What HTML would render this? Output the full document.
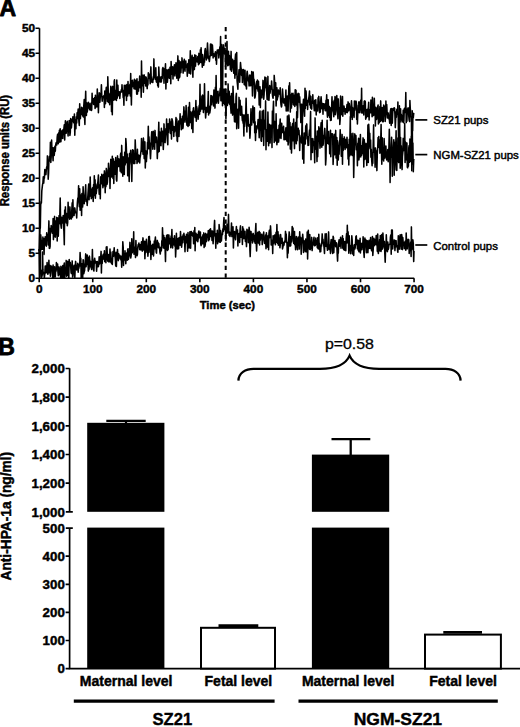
<!DOCTYPE html>
<html><head><meta charset="utf-8"><style>
html,body{margin:0;padding:0;background:#fff;}
body{width:520px;height:727px;overflow:hidden;font-family:"Liberation Sans",sans-serif;}
svg{display:block;}
</style></head><body>
<svg width="520" height="727" viewBox="0 0 520 727" font-family="'Liberation Sans', sans-serif" shape-rendering="auto"><rect width="520" height="727" fill="#fff"/><text x="-0.5" y="16.3" font-size="23" font-weight="bold" stroke="#000" stroke-width="0.8" stroke-linejoin="round">A</text><polyline fill="none" stroke="#000" stroke-width="1.55" stroke-linejoin="round" points="39.2,251.0 39.6,237.4 39.9,229.1 40.3,227.9 40.7,204.8 41.1,201.6 41.4,202.9 41.8,190.8 42.2,187.5 42.6,184.1 42.9,183.0 43.3,176.8 43.7,183.1 44.1,177.7 44.4,178.2 44.8,169.5 45.2,171.8 45.6,172.7 45.9,174.6 46.3,169.9 46.7,166.8 47.1,167.4 47.4,155.9 47.8,156.4 48.2,179.3 48.6,172.7 48.9,160.6 49.3,161.3 49.7,156.3 50.1,155.5 50.4,142.2 50.8,162.4 51.2,156.7 51.6,140.1 51.9,148.4 52.3,147.4 52.7,154.2 53.1,160.8 53.4,148.1 53.8,147.7 54.2,155.5 54.6,151.2 54.9,146.4 55.3,151.2 55.7,144.9 56.1,142.8 56.4,142.3 56.8,145.0 57.2,137.0 57.6,134.3 57.9,137.2 58.3,143.7 58.7,132.8 59.1,140.0 59.4,130.2 59.8,142.1 60.2,128.7 60.6,134.3 60.9,141.8 61.3,135.3 61.7,132.4 62.1,130.5 62.4,138.2 62.8,138.5 63.2,129.5 63.6,133.5 63.9,128.6 64.3,124.8 64.7,140.1 65.1,127.4 65.4,120.7 65.8,130.3 66.2,133.3 66.6,122.8 66.9,125.7 67.3,121.2 67.7,128.9 68.1,136.0 68.4,126.8 68.8,128.7 69.2,120.5 69.6,124.0 69.9,135.5 70.3,132.4 70.7,118.6 71.1,119.6 71.4,127.9 71.8,123.5 72.2,120.3 72.6,119.7 72.9,116.7 73.3,120.4 73.7,122.3 74.1,123.0 74.4,114.1 74.8,135.2 75.2,121.1 75.6,119.6 75.9,128.7 76.3,116.9 76.7,123.0 77.1,112.8 77.4,118.7 77.8,113.1 78.2,109.1 78.6,114.0 78.9,121.7 79.3,125.4 79.7,103.7 80.1,115.3 80.4,118.6 80.8,112.7 81.2,114.4 81.6,107.2 81.9,112.0 82.3,111.7 82.7,115.9 83.1,107.8 83.4,117.0 83.8,105.5 84.2,99.5 84.6,118.8 84.9,124.5 85.3,104.2 85.7,91.3 86.1,114.1 86.4,115.4 86.8,103.1 87.2,112.1 87.6,109.6 87.9,108.2 88.3,102.2 88.7,107.9 89.1,103.2 89.4,105.8 89.8,109.8 90.2,106.1 90.6,109.9 90.9,103.3 91.3,110.4 91.7,110.0 92.1,93.2 92.4,102.8 92.8,102.6 93.2,98.7 93.6,104.5 93.9,103.1 94.3,98.6 94.7,97.5 95.1,108.5 95.4,95.3 95.8,104.3 96.2,107.1 96.6,105.9 96.9,102.4 97.3,89.0 97.7,107.0 98.1,98.1 98.4,112.8 98.8,98.7 99.2,92.7 99.6,99.8 99.9,102.2 100.3,96.5 100.7,93.3 101.1,93.4 101.4,84.8 101.8,96.1 102.2,101.2 102.5,98.0 102.9,97.5 103.3,96.2 103.7,97.0 104.0,95.5 104.4,107.4 104.8,91.0 105.2,100.0 105.5,103.7 105.9,91.8 106.3,87.3 106.7,92.5 107.0,94.5 107.4,101.5 107.8,76.7 108.2,89.5 108.5,102.5 108.9,100.0 109.3,94.2 109.7,104.8 110.0,93.4 110.4,97.4 110.8,86.3 111.2,87.9 111.5,111.6 111.9,93.6 112.3,114.7 112.7,86.4 113.0,92.4 113.4,89.8 113.8,100.1 114.2,81.2 114.5,79.8 114.9,99.7 115.3,90.2 115.7,96.9 116.0,92.5 116.4,100.5 116.8,80.0 117.2,98.3 117.5,93.8 117.9,85.2 118.3,95.7 118.7,92.9 119.0,94.8 119.4,91.8 119.8,98.4 120.2,93.4 120.5,91.7 120.9,92.4 121.3,89.7 121.7,91.7 122.0,84.8 122.4,91.6 122.8,90.2 123.2,97.7 123.5,92.3 123.9,105.2 124.3,85.2 124.7,95.8 125.0,93.0 125.4,85.6 125.8,85.2 126.2,90.2 126.5,100.5 126.9,84.5 127.3,85.3 127.7,96.0 128.0,81.6 128.4,91.0 128.8,93.6 129.2,85.5 129.5,87.1 129.9,84.4 130.3,96.0 130.7,73.6 131.0,89.1 131.4,105.0 131.8,80.7 132.2,86.9 132.5,80.2 132.9,86.4 133.3,84.5 133.7,82.3 134.0,88.7 134.4,79.3 134.8,86.6 135.2,89.1 135.5,82.8 135.9,80.3 136.3,84.5 136.7,94.1 137.0,78.7 137.4,94.1 137.8,89.2 138.2,82.1 138.5,91.1 138.9,81.9 139.3,82.3 139.7,76.0 140.0,87.7 140.4,85.6 140.8,79.3 141.2,97.3 141.5,61.0 141.9,85.6 142.3,85.7 142.7,75.3 143.0,81.0 143.4,92.2 143.8,76.5 144.2,74.9 144.5,83.2 144.9,82.0 145.3,76.9 145.7,85.9 146.0,77.0 146.4,78.5 146.8,84.1 147.2,88.6 147.5,80.9 147.9,85.0 148.3,72.7 148.7,78.2 149.0,73.9 149.4,78.0 149.8,77.1 150.2,83.8 150.5,74.2 150.9,66.9 151.3,80.4 151.7,82.1 152.0,79.2 152.4,81.2 152.8,82.5 153.2,76.9 153.5,79.6 153.9,58.9 154.3,77.5 154.7,75.3 155.0,71.1 155.4,79.1 155.8,67.7 156.2,81.1 156.5,82.1 156.9,81.5 157.3,77.4 157.7,85.6 158.0,76.6 158.4,87.1 158.8,67.1 159.2,76.6 159.5,80.1 159.9,81.8 160.3,78.3 160.7,77.1 161.0,82.3 161.4,81.4 161.8,76.5 162.2,78.6 162.5,69.0 162.9,67.6 163.3,74.8 163.7,68.6 164.0,83.3 164.4,70.4 164.8,74.6 165.1,71.2 165.5,63.8 165.9,88.9 166.3,72.3 166.6,81.1 167.0,69.9 167.4,82.2 167.8,76.8 168.1,72.2 168.5,69.4 168.9,72.8 169.3,78.3 169.6,76.6 170.0,67.2 170.4,72.9 170.8,83.7 171.1,61.6 171.5,69.8 171.9,66.7 172.3,74.5 172.6,66.8 173.0,78.9 173.4,68.1 173.8,74.8 174.1,67.1 174.5,64.7 174.9,75.9 175.3,71.3 175.6,70.5 176.0,62.8 176.4,65.8 176.8,78.2 177.1,67.1 177.5,65.0 177.9,55.9 178.3,80.4 178.6,72.8 179.0,60.5 179.4,77.8 179.8,76.6 180.1,65.3 180.5,61.9 180.9,72.6 181.3,64.6 181.6,67.2 182.0,57.9 182.4,67.6 182.8,61.0 183.1,73.1 183.5,68.3 183.9,67.5 184.3,59.3 184.6,62.8 185.0,71.3 185.4,61.8 185.8,61.0 186.1,66.6 186.5,67.3 186.9,66.8 187.3,76.3 187.6,63.9 188.0,63.4 188.4,70.4 188.8,59.7 189.1,73.3 189.5,67.7 189.9,67.0 190.3,50.8 190.6,73.9 191.0,59.7 191.4,57.0 191.8,60.5 192.1,55.2 192.5,69.2 192.9,77.3 193.3,57.4 193.6,70.0 194.0,64.2 194.4,69.5 194.8,54.9 195.1,55.9 195.5,66.1 195.9,55.4 196.3,60.3 196.6,61.8 197.0,60.4 197.4,61.9 197.8,56.5 198.1,58.3 198.5,64.7 198.9,53.4 199.3,63.8 199.6,57.8 200.0,56.8 200.4,49.7 200.8,62.5 201.1,47.7 201.5,57.7 201.9,60.0 202.3,67.3 202.6,54.6 203.0,57.9 203.4,65.3 203.8,65.3 204.1,61.5 204.5,62.2 204.9,50.6 205.3,48.6 205.6,51.8 206.0,55.0 206.4,60.0 206.8,56.8 207.1,51.3 207.5,43.1 207.9,50.9 208.3,58.5 208.6,56.3 209.0,59.6 209.4,61.5 209.8,57.5 210.1,54.9 210.5,44.1 210.9,55.6 211.3,47.0 211.6,44.2 212.0,55.1 212.4,45.0 212.8,50.7 213.1,58.0 213.5,53.5 213.9,54.9 214.3,56.5 214.6,56.1 215.0,53.8 215.4,51.8 215.8,60.3 216.1,54.5 216.5,64.2 216.9,52.5 217.3,50.0 217.6,52.9 218.0,52.0 218.4,49.9 218.8,58.0 219.1,55.1 219.5,50.1 219.9,46.8 220.3,50.6 220.6,36.5 221.0,100.7 221.4,46.3 221.8,44.5 222.1,53.5 222.5,105.7 222.9,60.1 223.3,50.1 223.6,44.9 224.0,50.3 224.4,49.7 224.8,54.2 225.1,48.3 225.5,66.6 225.9,51.9 226.3,54.0 226.6,63.9 227.0,41.6 227.4,65.6 227.7,64.3 228.1,65.6 228.5,51.2 228.9,64.7 229.2,55.2 229.6,56.3 230.0,59.0 230.4,69.7 230.7,65.7 231.1,51.4 231.5,71.3 231.9,68.8 232.2,65.1 232.6,59.3 233.0,63.5 233.4,60.9 233.7,73.2 234.1,60.7 234.5,63.7 234.9,78.3 235.2,58.5 235.6,54.1 236.0,74.6 236.4,69.8 236.7,52.6 237.1,80.9 237.5,84.8 237.9,89.3 238.2,76.6 238.6,77.1 239.0,69.7 239.4,72.2 239.7,82.3 240.1,70.8 240.5,62.6 240.9,67.3 241.2,68.9 241.6,75.5 242.0,69.5 242.4,82.4 242.7,71.6 243.1,77.3 243.5,69.6 243.9,74.3 244.2,84.6 244.6,77.0 245.0,70.2 245.4,85.7 245.7,85.9 246.1,84.0 246.5,89.0 246.9,73.3 247.2,71.3 247.6,74.9 248.0,78.8 248.4,81.0 248.7,79.4 249.1,86.0 249.5,75.7 249.9,75.0 250.2,76.0 250.6,85.8 251.0,82.1 251.4,84.0 251.7,71.5 252.1,82.3 252.5,96.0 252.9,81.4 253.2,72.0 253.6,80.1 254.0,79.1 254.4,84.7 254.7,98.1 255.1,97.2 255.5,93.7 255.9,86.6 256.2,83.9 256.6,81.6 257.0,88.4 257.4,80.1 257.7,88.3 258.1,91.2 258.5,81.3 258.9,92.9 259.2,104.9 259.6,94.2 260.0,86.8 260.4,107.6 260.7,90.1 261.1,90.0 261.5,97.3 261.9,97.8 262.2,91.3 262.6,92.0 263.0,80.4 263.4,86.4 263.7,99.2 264.1,94.6 264.5,84.7 264.9,77.1 265.2,87.0 265.6,87.7 266.0,77.8 266.4,90.1 266.7,92.2 267.1,99.5 267.5,93.8 267.9,76.4 268.2,100.0 268.6,90.8 269.0,100.2 269.4,90.4 269.7,85.6 270.1,93.1 270.5,86.9 270.9,87.1 271.2,89.1 271.6,81.0 272.0,87.2 272.4,94.4 272.7,97.0 273.1,98.2 273.5,89.8 273.9,95.1 274.2,75.4 274.6,81.3 275.0,94.8 275.4,95.7 275.7,82.7 276.1,106.0 276.5,96.8 276.9,87.8 277.2,100.0 277.6,97.3 278.0,96.6 278.4,90.1 278.7,93.7 279.1,92.0 279.5,90.9 279.9,94.7 280.2,87.8 280.6,99.9 281.0,104.6 281.4,106.9 281.7,106.0 282.1,99.1 282.5,89.0 282.9,94.7 283.2,99.8 283.6,103.0 284.0,99.6 284.4,98.9 284.7,100.0 285.1,105.8 285.5,99.7 285.9,90.1 286.2,111.0 286.6,98.5 287.0,110.8 287.4,96.0 287.7,102.1 288.1,110.9 288.5,96.8 288.9,85.8 289.2,97.0 289.6,82.7 290.0,98.4 290.3,112.1 290.7,95.0 291.1,103.7 291.5,107.9 291.8,93.4 292.2,96.8 292.6,102.2 293.0,93.2 293.3,104.6 293.7,94.9 294.1,105.3 294.5,95.8 294.8,106.5 295.2,89.7 295.6,97.8 296.0,90.3 296.3,105.0 296.7,102.8 297.1,94.3 297.5,117.7 297.8,106.9 298.2,93.3 298.6,97.1 299.0,93.8 299.3,102.3 299.7,96.7 300.1,105.2 300.5,109.4 300.8,122.6 301.2,104.2 301.6,104.3 302.0,104.9 302.3,123.0 302.7,113.9 303.1,104.5 303.5,99.2 303.8,104.9 304.2,106.9 304.6,116.3 305.0,88.3 305.3,108.6 305.7,90.6 306.1,91.5 306.5,99.9 306.8,105.5 307.2,101.0 307.6,109.4 308.0,100.3 308.3,102.1 308.7,98.7 309.1,96.0 309.5,91.0 309.8,104.9 310.2,95.7 310.6,107.7 311.0,108.4 311.3,106.7 311.7,109.1 312.1,96.5 312.5,96.9 312.8,94.7 313.2,103.2 313.6,101.4 314.0,107.0 314.3,110.8 314.7,100.4 315.1,101.7 315.5,110.7 315.8,99.7 316.2,114.9 316.6,104.8 317.0,107.8 317.3,107.2 317.7,110.9 318.1,97.7 318.5,100.3 318.8,96.4 319.2,103.3 319.6,112.6 320.0,106.7 320.3,112.1 320.7,101.5 321.1,96.7 321.5,102.5 321.8,108.6 322.2,107.2 322.6,103.5 323.0,114.3 323.3,104.0 323.7,103.7 324.1,108.6 324.5,107.9 324.8,104.1 325.2,110.6 325.6,110.7 326.0,100.4 326.3,104.1 326.7,94.7 327.1,112.1 327.5,117.3 327.8,99.7 328.2,99.7 328.6,110.7 329.0,115.6 329.3,106.4 329.7,117.5 330.1,110.9 330.5,120.5 330.8,107.9 331.2,120.2 331.6,108.1 332.0,96.7 332.3,108.4 332.7,101.7 333.1,111.0 333.5,112.7 333.8,116.7 334.2,100.2 334.6,107.4 335.0,96.6 335.3,114.8 335.7,108.7 336.1,106.8 336.5,98.2 336.8,95.6 337.2,111.7 337.6,114.9 338.0,118.8 338.3,98.9 338.7,108.2 339.1,111.9 339.5,108.1 339.8,124.4 340.2,119.1 340.6,96.1 341.0,105.4 341.3,107.0 341.7,114.6 342.1,104.3 342.5,96.6 342.8,116.2 343.2,108.2 343.6,111.2 344.0,106.0 344.3,108.3 344.7,109.4 345.1,114.3 345.5,108.7 345.8,112.6 346.2,109.6 346.6,109.1 347.0,104.5 347.3,112.6 347.7,111.0 348.1,101.9 348.5,110.4 348.8,110.7 349.2,103.4 349.6,107.3 350.0,108.6 350.3,107.8 350.7,117.3 351.1,106.3 351.5,100.7 351.8,105.6 352.2,119.5 352.6,107.6 352.9,115.4 353.3,111.0 353.7,108.7 354.1,117.4 354.4,101.0 354.8,110.2 355.2,104.6 355.6,105.7 355.9,101.1 356.3,102.1 356.7,119.5 357.1,109.7 357.4,123.9 357.8,113.0 358.2,105.4 358.6,104.2 358.9,101.8 359.3,112.7 359.7,108.2 360.1,109.7 360.4,102.1 360.8,100.1 361.2,112.8 361.6,88.2 361.9,110.6 362.3,113.0 362.7,106.7 363.1,105.7 363.4,107.2 363.8,115.0 364.2,101.2 364.6,110.5 364.9,100.9 365.3,101.9 365.7,119.2 366.1,117.4 366.4,117.6 366.8,109.5 367.2,110.8 367.6,109.4 367.9,116.5 368.3,108.5 368.7,102.2 369.1,120.0 369.4,112.7 369.8,109.8 370.2,112.3 370.6,112.8 370.9,100.1 371.3,103.3 371.7,106.1 372.1,116.7 372.4,97.2 372.8,109.5 373.2,115.6 373.6,114.1 373.9,115.1 374.3,98.2 374.7,110.6 375.1,111.6 375.4,126.0 375.8,107.3 376.2,119.0 376.6,119.5 376.9,108.2 377.3,117.9 377.7,106.8 378.1,105.0 378.4,124.0 378.8,113.3 379.2,122.7 379.6,112.9 379.9,106.6 380.3,121.4 380.7,100.9 381.1,114.6 381.4,120.4 381.8,113.5 382.2,107.6 382.6,121.7 382.9,112.8 383.3,121.8 383.7,105.1 384.1,111.9 384.4,115.8 384.8,106.3 385.2,121.4 385.6,115.7 385.9,101.1 386.3,114.0 386.7,104.4 387.1,112.0 387.4,117.9 387.8,116.7 388.2,112.9 388.6,116.1 388.9,118.8 389.3,118.6 389.7,123.2 390.1,112.9 390.4,111.1 390.8,108.8 391.2,125.4 391.6,108.5 391.9,113.9 392.3,123.1 392.7,113.2 393.1,108.6 393.4,110.5 393.8,109.2 394.2,107.8 394.6,108.2 394.9,114.2 395.3,127.6 395.7,119.0 396.1,111.8 396.4,117.2 396.8,109.7 397.2,109.0 397.6,113.9 397.9,102.0 398.3,120.6 398.7,160.7 399.1,117.4 399.4,119.4 399.8,110.5 400.2,118.4 400.6,108.8 400.9,122.0 401.3,114.2 401.7,119.9 402.1,116.0 402.4,116.9 402.8,121.9 403.2,110.3 403.6,122.7 403.9,121.0 404.3,108.8 404.7,108.3 405.1,110.3 405.4,112.5 405.8,92.5 406.2,122.6 406.6,119.6 406.9,121.3 407.3,109.0 407.7,113.0 408.1,107.7 408.4,108.6 408.8,116.4 409.2,120.3 409.6,121.4 409.9,100.6 410.3,108.8 410.7,111.2 411.1,117.3 411.4,116.4 411.8,170.7 412.2,117.3 412.6,130.8 412.9,115.6 413.3,117.7 413.7,113.4 414.0,113.9"/><polyline fill="none" stroke="#000" stroke-width="1.55" stroke-linejoin="round" points="39.2,249.3 39.6,254.0 39.9,252.5 40.3,267.1 40.7,234.7 41.1,239.0 41.4,249.4 41.8,240.5 42.2,243.6 42.6,249.2 42.9,237.1 43.3,246.1 43.7,245.6 44.1,254.4 44.4,238.5 44.8,242.1 45.2,236.8 45.6,245.0 45.9,239.1 46.3,246.2 46.7,232.8 47.1,237.2 47.4,235.7 47.8,234.7 48.2,244.9 48.6,231.0 48.9,220.9 49.3,248.2 49.7,248.4 50.1,246.3 50.4,228.3 50.8,233.2 51.2,225.6 51.6,227.9 51.9,231.3 52.3,230.3 52.7,233.3 53.1,218.6 53.4,239.6 53.8,233.9 54.2,228.5 54.6,216.4 54.9,235.2 55.3,237.1 55.7,232.8 56.1,220.9 56.4,229.5 56.8,217.4 57.2,240.9 57.6,218.0 57.9,218.3 58.3,236.2 58.7,224.0 59.1,215.6 59.4,223.7 59.8,216.4 60.2,198.0 60.6,221.1 60.9,224.9 61.3,228.2 61.7,217.2 62.1,223.1 62.4,222.6 62.8,221.7 63.2,215.6 63.6,228.1 63.9,231.2 64.3,244.8 64.7,210.0 65.1,217.5 65.4,206.9 65.8,217.9 66.2,223.0 66.6,213.5 66.9,217.2 67.3,225.7 67.7,222.5 68.1,202.3 68.4,212.5 68.8,211.6 69.2,216.5 69.6,219.2 69.9,206.9 70.3,214.0 70.7,218.5 71.1,213.5 71.4,218.9 71.8,210.2 72.2,202.8 72.6,217.1 72.9,199.7 73.3,215.0 73.7,208.4 74.1,215.4 74.4,210.4 74.8,207.9 75.2,211.1 75.6,212.7 75.9,212.1 76.3,212.8 76.7,218.0 77.1,207.8 77.4,202.4 77.8,198.1 78.2,199.7 78.6,185.7 78.9,201.3 79.3,206.7 79.7,188.8 80.1,210.3 80.4,194.7 80.8,208.7 81.2,198.5 81.6,215.5 81.9,193.6 82.3,201.1 82.7,206.9 83.1,186.7 83.4,193.2 83.8,198.2 84.2,203.8 84.6,198.2 84.9,198.7 85.3,191.7 85.7,184.8 86.1,201.5 86.4,200.2 86.8,199.7 87.2,205.5 87.6,199.5 87.9,195.4 88.3,189.2 88.7,184.1 89.1,199.7 89.4,189.2 89.8,196.3 90.2,177.0 90.6,192.6 90.9,188.1 91.3,198.6 91.7,197.3 92.1,189.3 92.4,193.4 92.8,187.5 93.2,201.5 93.6,184.5 93.9,195.8 94.3,175.8 94.7,190.6 95.1,179.8 95.4,198.2 95.8,184.1 96.2,193.7 96.6,190.3 96.9,186.1 97.3,188.3 97.7,183.6 98.1,179.6 98.4,175.0 98.8,185.1 99.2,194.3 99.6,189.7 99.9,184.8 100.3,198.8 100.7,176.9 101.1,184.0 101.4,183.7 101.8,174.3 102.2,176.0 102.5,179.0 102.9,187.8 103.3,177.6 103.7,174.3 104.0,185.8 104.4,170.9 104.8,174.6 105.2,192.8 105.5,176.7 105.9,186.7 106.3,168.4 106.7,170.5 107.0,184.4 107.4,182.4 107.8,174.6 108.2,176.8 108.5,163.2 108.9,168.7 109.3,176.0 109.7,169.2 110.0,188.4 110.4,170.4 110.8,159.4 111.2,173.3 111.5,176.9 111.9,167.0 112.3,156.2 112.7,168.9 113.0,178.5 113.4,158.9 113.8,183.4 114.2,165.2 114.5,173.0 114.9,161.2 115.3,174.2 115.7,157.5 116.0,164.8 116.4,179.7 116.8,181.1 117.2,168.3 117.5,155.9 117.9,164.2 118.3,164.4 118.7,166.5 119.0,158.9 119.4,161.4 119.8,161.8 120.2,171.1 120.5,154.5 120.9,153.0 121.3,172.7 121.7,145.4 122.0,157.0 122.4,165.9 122.8,176.2 123.2,156.8 123.5,157.3 123.9,165.7 124.3,174.4 124.7,152.3 125.0,164.9 125.4,163.7 125.8,138.6 126.2,143.7 126.5,152.3 126.9,162.6 127.3,154.1 127.7,175.8 128.0,157.7 128.4,163.9 128.8,167.6 129.2,181.4 129.5,153.5 129.9,156.5 130.3,155.8 130.7,150.4 131.0,162.8 131.4,165.5 131.8,181.4 132.2,158.2 132.5,149.7 132.9,156.3 133.3,150.2 133.7,163.6 134.0,158.0 134.4,160.0 134.8,163.4 135.2,139.9 135.5,147.2 135.9,159.1 136.3,158.9 136.7,153.4 137.0,163.5 137.4,149.2 137.8,162.0 138.2,154.8 138.5,159.5 138.9,155.2 139.3,161.4 139.7,162.9 140.0,158.2 140.4,155.8 140.8,152.7 141.2,149.7 141.5,138.6 141.9,143.7 142.3,151.5 142.7,143.9 143.0,154.3 143.4,138.0 143.8,144.6 144.2,158.6 144.5,142.6 144.9,141.9 145.3,167.9 145.7,153.2 146.0,150.9 146.4,161.6 146.8,154.9 147.2,153.8 147.5,142.6 147.9,143.9 148.3,126.3 148.7,148.7 149.0,136.8 149.4,144.6 149.8,142.9 150.2,153.4 150.5,158.8 150.9,150.0 151.3,138.2 151.7,131.8 152.0,138.9 152.4,139.5 152.8,149.2 153.2,131.2 153.5,132.4 153.9,146.2 154.3,142.3 154.7,149.2 155.0,130.4 155.4,138.2 155.8,142.4 156.2,137.6 156.5,137.1 156.9,143.3 157.3,158.6 157.7,149.3 158.0,152.5 158.4,135.7 158.8,122.3 159.2,151.4 159.5,137.4 159.9,132.0 160.3,145.3 160.7,136.2 161.0,145.7 161.4,128.2 161.8,141.4 162.2,135.9 162.5,131.3 162.9,139.4 163.3,149.4 163.7,139.6 164.0,123.9 164.4,135.7 164.8,133.1 165.1,142.6 165.5,133.2 165.9,128.5 166.3,133.4 166.6,119.1 167.0,134.7 167.4,140.7 167.8,144.7 168.1,123.7 168.5,132.5 168.9,124.2 169.3,128.1 169.6,119.0 170.0,121.5 170.4,133.5 170.8,126.3 171.1,122.0 171.5,139.1 171.9,118.7 172.3,120.2 172.6,121.6 173.0,130.2 173.4,126.2 173.8,136.5 174.1,127.4 174.5,132.0 174.9,126.6 175.3,130.7 175.6,124.6 176.0,117.6 176.4,136.0 176.8,118.9 177.1,140.5 177.5,141.5 177.9,126.8 178.3,124.6 178.6,121.1 179.0,136.5 179.4,124.3 179.8,122.6 180.1,113.8 180.5,123.7 180.9,118.7 181.3,129.7 181.6,123.5 182.0,125.1 182.4,116.2 182.8,128.6 183.1,127.2 183.5,116.3 183.9,106.9 184.3,117.2 184.6,117.5 185.0,122.1 185.4,111.0 185.8,114.8 186.1,105.6 186.5,115.8 186.9,125.1 187.3,121.9 187.6,124.8 188.0,126.4 188.4,107.3 188.8,110.4 189.1,125.4 189.5,102.5 189.9,113.7 190.3,122.4 190.6,112.0 191.0,115.1 191.4,120.1 191.8,128.6 192.1,113.4 192.5,111.2 192.9,132.4 193.3,108.6 193.6,107.8 194.0,115.7 194.4,111.0 194.8,113.6 195.1,117.5 195.5,113.6 195.9,100.5 196.3,121.2 196.6,106.5 197.0,108.3 197.4,114.7 197.8,112.4 198.1,119.3 198.5,114.9 198.9,108.1 199.3,105.4 199.6,114.3 200.0,84.3 200.4,111.2 200.8,105.7 201.1,108.1 201.5,109.0 201.9,96.0 202.3,109.0 202.6,95.1 203.0,96.4 203.4,112.6 203.8,96.8 204.1,109.3 204.5,83.7 204.9,106.9 205.3,110.9 205.6,118.0 206.0,113.2 206.4,107.6 206.8,110.6 207.1,112.1 207.5,107.9 207.9,104.1 208.3,91.5 208.6,114.9 209.0,106.1 209.4,108.9 209.8,112.9 210.1,110.9 210.5,108.0 210.9,95.6 211.3,102.3 211.6,104.7 212.0,95.9 212.4,98.2 212.8,101.8 213.1,97.0 213.5,105.9 213.9,90.1 214.3,95.8 214.6,102.2 215.0,108.1 215.4,87.4 215.8,97.9 216.1,75.5 216.5,103.1 216.9,91.6 217.3,101.1 217.6,95.7 218.0,91.2 218.4,103.2 218.8,97.7 219.1,95.5 219.5,95.7 219.9,91.8 220.3,88.4 220.6,89.6 221.0,93.6 221.4,100.6 221.8,55.7 222.1,100.5 222.5,98.7 222.9,89.4 223.3,97.0 223.6,103.4 224.0,89.1 224.4,99.6 224.8,104.8 225.1,95.6 225.5,89.2 225.9,118.6 226.3,106.3 226.6,93.8 227.0,99.8 227.4,105.4 227.7,102.7 228.1,83.9 228.5,102.8 228.9,91.7 229.2,91.4 229.6,104.3 230.0,95.9 230.4,105.3 230.7,107.4 231.1,113.1 231.5,93.6 231.9,106.8 232.2,108.9 232.6,115.1 233.0,86.3 233.4,97.5 233.7,106.7 234.1,112.8 234.5,121.7 234.9,104.0 235.2,104.5 235.6,122.0 236.0,96.8 236.4,93.4 236.7,128.7 237.1,115.5 237.5,114.7 237.9,109.4 238.2,112.9 238.6,128.2 239.0,97.4 239.4,109.2 239.7,100.1 240.1,100.4 240.5,115.3 240.9,106.6 241.2,106.4 241.6,106.3 242.0,115.9 242.4,120.7 242.7,114.5 243.1,123.1 243.5,120.9 243.9,135.9 244.2,115.0 244.6,126.4 245.0,122.0 245.4,117.2 245.7,113.8 246.1,98.3 246.5,115.4 246.9,131.9 247.2,116.7 247.6,124.3 248.0,114.6 248.4,125.7 248.7,126.2 249.1,124.5 249.5,125.9 249.9,138.2 250.2,133.5 250.6,120.6 251.0,108.7 251.4,123.9 251.7,125.0 252.1,115.7 252.5,116.4 252.9,106.1 253.2,110.6 253.6,122.8 254.0,109.5 254.4,107.8 254.7,132.8 255.1,121.8 255.5,140.4 255.9,127.3 256.2,132.7 256.6,126.1 257.0,128.9 257.4,125.9 257.7,125.4 258.1,119.6 258.5,122.3 258.9,130.4 259.2,137.8 259.6,112.7 260.0,111.0 260.4,129.8 260.7,119.8 261.1,140.8 261.5,141.3 261.9,128.5 262.2,111.2 262.6,136.5 263.0,134.5 263.4,110.3 263.7,145.4 264.1,120.1 264.5,121.9 264.9,128.9 265.2,125.1 265.6,100.9 266.0,149.8 266.4,130.5 266.7,129.9 267.1,134.6 267.5,141.2 267.9,112.0 268.2,125.9 268.6,145.8 269.0,135.4 269.4,124.4 269.7,124.6 270.1,143.1 270.5,129.8 270.9,126.4 271.2,125.2 271.6,125.3 272.0,147.6 272.4,111.0 272.7,127.5 273.1,111.7 273.5,101.3 273.9,131.7 274.2,142.5 274.6,121.6 275.0,132.2 275.4,135.0 275.7,140.9 276.1,113.8 276.5,135.2 276.9,144.8 277.2,135.4 277.6,142.6 278.0,129.6 278.4,135.4 278.7,141.9 279.1,125.4 279.5,137.9 279.9,124.4 280.2,119.1 280.6,135.4 281.0,138.4 281.4,130.0 281.7,123.2 282.1,132.2 282.5,130.9 282.9,132.6 283.2,129.3 283.6,126.3 284.0,139.7 284.4,137.6 284.7,132.4 285.1,139.6 285.5,131.7 285.9,127.8 286.2,133.4 286.6,139.3 287.0,141.2 287.4,116.0 287.7,124.8 288.1,144.9 288.5,142.2 288.9,115.1 289.2,118.9 289.6,132.8 290.0,122.6 290.3,149.1 290.7,134.3 291.1,127.0 291.5,153.1 291.8,142.5 292.2,126.9 292.6,123.5 293.0,140.8 293.3,132.1 293.7,119.1 294.1,139.0 294.5,148.6 294.8,136.0 295.2,139.4 295.6,122.5 296.0,134.0 296.3,143.7 296.7,111.7 297.1,140.8 297.5,131.2 297.8,129.2 298.2,128.2 298.6,134.4 299.0,130.3 299.3,136.9 299.7,150.5 300.1,138.6 300.5,138.5 300.8,138.3 301.2,135.3 301.6,143.0 302.0,123.6 302.3,121.2 302.7,158.9 303.1,136.9 303.5,144.2 303.8,163.2 304.2,133.1 304.6,143.5 305.0,141.2 305.3,144.0 305.7,126.7 306.1,125.2 306.5,134.9 306.8,123.9 307.2,139.0 307.6,136.5 308.0,145.4 308.3,137.7 308.7,145.3 309.1,134.5 309.5,130.0 309.8,135.3 310.2,126.6 310.6,111.6 311.0,159.7 311.3,138.5 311.7,144.4 312.1,143.4 312.5,152.5 312.8,138.5 313.2,141.6 313.6,145.5 314.0,141.8 314.3,145.2 314.7,162.8 315.1,117.9 315.5,142.5 315.8,149.1 316.2,136.6 316.6,146.4 317.0,161.6 317.3,131.0 317.7,156.7 318.1,142.2 318.5,138.9 318.8,126.7 319.2,128.4 319.6,138.7 320.0,148.1 320.3,144.7 320.7,129.7 321.1,122.8 321.5,135.3 321.8,147.2 322.2,120.3 322.6,144.7 323.0,145.1 323.3,143.9 323.7,135.3 324.1,138.5 324.5,131.4 324.8,128.4 325.2,136.3 325.6,164.9 326.0,158.6 326.3,140.1 326.7,142.4 327.1,120.3 327.5,142.2 327.8,143.5 328.2,132.6 328.6,131.5 329.0,144.6 329.3,137.6 329.7,153.7 330.1,151.9 330.5,130.2 330.8,156.7 331.2,133.5 331.6,136.0 332.0,135.1 332.3,133.8 332.7,137.4 333.1,164.5 333.5,153.2 333.8,149.2 334.2,134.2 334.6,154.7 335.0,150.5 335.3,147.2 335.7,130.4 336.1,158.1 336.5,157.3 336.8,137.6 337.2,165.2 337.6,140.7 338.0,148.6 338.3,159.9 338.7,148.4 339.1,154.3 339.5,142.7 339.8,140.8 340.2,129.7 340.6,144.8 341.0,143.7 341.3,156.3 341.7,145.1 342.1,134.4 342.5,164.3 342.8,138.5 343.2,150.5 343.6,144.5 344.0,142.1 344.3,136.9 344.7,143.1 345.1,149.5 345.5,139.4 345.8,145.6 346.2,147.8 346.6,143.8 347.0,137.2 347.3,144.6 347.7,144.5 348.1,159.1 348.5,147.5 348.8,164.9 349.2,139.2 349.6,155.9 350.0,133.6 350.3,116.7 350.7,154.7 351.1,133.5 351.5,142.8 351.8,152.5 352.2,155.4 352.6,141.5 352.9,133.2 353.3,143.7 353.7,177.5 354.1,157.8 354.4,149.7 354.8,133.9 355.2,144.7 355.6,144.3 355.9,135.5 356.3,149.7 356.7,148.7 357.1,149.6 357.4,165.7 357.8,143.3 358.2,143.9 358.6,138.3 358.9,160.0 359.3,156.3 359.7,138.9 360.1,145.0 360.4,134.6 360.8,157.0 361.2,146.4 361.6,155.3 361.9,145.5 362.3,153.5 362.7,143.3 363.1,137.9 363.4,142.0 363.8,166.9 364.2,139.5 364.6,144.5 364.9,159.4 365.3,157.9 365.7,149.0 366.1,143.4 366.4,153.7 366.8,165.5 367.2,146.5 367.6,147.7 367.9,125.1 368.3,162.4 368.7,124.3 369.1,132.2 369.4,146.7 369.8,133.2 370.2,148.8 370.6,140.1 370.9,157.3 371.3,149.2 371.7,160.2 372.1,165.8 372.4,152.9 372.8,163.4 373.2,144.5 373.6,124.9 373.9,152.1 374.3,149.8 374.7,148.6 375.1,167.3 375.4,147.9 375.8,150.5 376.2,151.2 376.6,161.8 376.9,170.6 377.3,153.4 377.7,147.8 378.1,137.6 378.4,139.7 378.8,136.6 379.2,147.5 379.6,139.7 379.9,153.3 380.3,145.1 380.7,142.1 381.1,124.6 381.4,149.1 381.8,164.3 382.2,137.8 382.6,159.6 382.9,152.3 383.3,154.7 383.7,160.9 384.1,138.6 384.4,146.0 384.8,158.1 385.2,151.4 385.6,156.5 385.9,146.0 386.3,156.0 386.7,160.0 387.1,158.8 387.4,156.8 387.8,149.6 388.2,161.7 388.6,153.5 388.9,148.2 389.3,129.3 389.7,144.2 390.1,182.6 390.4,158.0 390.8,156.9 391.2,149.8 391.6,137.3 391.9,145.7 392.3,176.2 392.7,150.1 393.1,152.2 393.4,149.1 393.8,139.7 394.2,175.2 394.6,142.3 394.9,170.0 395.3,152.9 395.7,149.7 396.1,130.7 396.4,160.6 396.8,170.5 397.2,146.8 397.6,160.3 397.9,138.1 398.3,160.8 398.7,162.5 399.1,141.4 399.4,105.7 399.8,133.9 400.2,168.2 400.6,137.4 400.9,159.9 401.3,145.8 401.7,164.1 402.1,169.6 402.4,156.7 402.8,152.4 403.2,138.4 403.6,150.7 403.9,147.1 404.3,147.7 404.7,123.2 405.1,162.5 405.4,141.8 405.8,155.9 406.2,151.9 406.6,160.0 406.9,142.9 407.3,167.1 407.7,167.8 408.1,156.7 408.4,166.3 408.8,147.7 409.2,145.5 409.6,162.3 409.9,139.1 410.3,161.5 410.7,155.3 411.1,154.9 411.4,136.2 411.8,155.0 412.2,110.7 412.6,164.2 412.9,143.1 413.3,171.8 413.7,159.9 414.0,159.0"/><polyline fill="none" stroke="#000" stroke-width="1.55" stroke-linejoin="round" points="39.2,249.0 39.6,277.1 39.9,261.8 40.3,269.2 40.7,270.3 41.1,270.7 41.4,277.9 41.8,272.2 42.2,275.9 42.6,252.0 42.9,269.9 43.3,273.3 43.7,273.1 44.1,275.4 44.4,277.7 44.8,273.9 45.2,266.1 45.6,273.0 45.9,266.1 46.3,272.7 46.7,271.4 47.1,262.6 47.4,268.3 47.8,274.3 48.2,272.4 48.6,268.2 48.9,260.2 49.3,272.8 49.7,272.6 50.1,265.4 50.4,276.2 50.8,272.8 51.2,266.0 51.6,267.7 51.9,270.5 52.3,267.1 52.7,277.9 53.1,265.0 53.4,276.4 53.8,277.9 54.2,269.2 54.6,266.7 54.9,273.3 55.3,276.9 55.7,270.5 56.1,271.2 56.4,262.5 56.8,266.3 57.2,269.4 57.6,264.1 57.9,271.6 58.3,275.7 58.7,267.0 59.1,267.0 59.4,271.5 59.8,274.8 60.2,268.9 60.6,277.9 60.9,266.2 61.3,267.3 61.7,277.9 62.1,269.7 62.4,275.5 62.8,265.6 63.2,277.9 63.6,275.1 63.9,265.7 64.3,263.1 64.7,277.9 65.1,272.5 65.4,267.7 65.8,273.1 66.2,260.4 66.6,276.3 66.9,267.4 67.3,275.4 67.7,261.2 68.1,269.4 68.4,271.4 68.8,277.9 69.2,259.5 69.6,264.8 69.9,264.7 70.3,262.5 70.7,266.9 71.1,272.6 71.4,273.5 71.8,273.4 72.2,260.9 72.6,277.1 72.9,272.1 73.3,270.5 73.7,267.3 74.1,265.2 74.4,275.7 74.8,277.9 75.2,268.4 75.6,261.4 75.9,263.9 76.3,267.0 76.7,270.0 77.1,266.4 77.4,269.4 77.8,263.2 78.2,272.3 78.6,266.9 78.9,268.2 79.3,264.3 79.7,266.1 80.1,252.6 80.4,258.5 80.8,258.4 81.2,277.9 81.6,268.8 81.9,270.2 82.3,263.6 82.7,277.9 83.1,259.7 83.4,260.2 83.8,273.7 84.2,271.7 84.6,270.6 84.9,265.6 85.3,262.1 85.7,253.9 86.1,266.7 86.4,261.1 86.8,264.5 87.2,255.1 87.6,260.9 87.9,257.2 88.3,271.1 88.7,265.9 89.1,269.4 89.4,256.0 89.8,260.7 90.2,266.2 90.6,266.9 90.9,261.4 91.3,268.1 91.7,269.4 92.1,261.1 92.4,249.6 92.8,265.1 93.2,266.8 93.6,270.2 93.9,271.0 94.3,260.2 94.7,258.2 95.1,262.9 95.4,261.0 95.8,262.1 96.2,261.8 96.6,271.3 96.9,265.0 97.3,261.6 97.7,266.7 98.1,264.8 98.4,266.6 98.8,263.7 99.2,256.8 99.6,263.9 99.9,262.4 100.3,256.7 100.7,257.5 101.1,251.4 101.4,273.0 101.8,256.0 102.2,263.5 102.5,259.9 102.9,255.7 103.3,254.2 103.7,254.3 104.0,259.3 104.4,250.8 104.8,261.6 105.2,260.6 105.5,255.1 105.9,262.8 106.3,247.1 106.7,253.5 107.0,246.7 107.4,259.3 107.8,261.2 108.2,257.9 108.5,254.6 108.9,262.0 109.3,256.4 109.7,258.5 110.0,249.0 110.4,262.0 110.8,252.1 111.2,261.7 111.5,263.4 111.9,261.8 112.3,264.5 112.7,256.7 113.0,251.5 113.4,256.3 113.8,253.6 114.2,247.7 114.5,255.4 114.9,255.7 115.3,258.3 115.7,265.9 116.0,252.2 116.4,266.5 116.8,252.5 117.2,256.3 117.5,249.6 117.9,256.4 118.3,260.6 118.7,253.7 119.0,258.9 119.4,256.6 119.8,255.2 120.2,256.1 120.5,256.3 120.9,259.9 121.3,257.2 121.7,267.2 122.0,255.7 122.4,261.5 122.8,241.7 123.2,247.1 123.5,265.5 123.9,253.4 124.3,254.8 124.7,260.0 125.0,250.8 125.4,256.4 125.8,263.8 126.2,255.1 126.5,254.3 126.9,252.7 127.3,260.3 127.7,249.6 128.0,248.8 128.4,259.5 128.8,256.6 129.2,253.1 129.5,255.8 129.9,242.4 130.3,251.1 130.7,258.0 131.0,256.7 131.4,252.4 131.8,238.7 132.2,252.8 132.5,251.0 132.9,248.6 133.3,251.7 133.7,231.8 134.0,254.3 134.4,246.9 134.8,250.2 135.2,247.4 135.5,257.6 135.9,240.6 136.3,251.4 136.7,250.4 137.0,255.8 137.4,254.6 137.8,247.0 138.2,244.5 138.5,245.7 138.9,243.0 139.3,245.7 139.7,249.6 140.0,244.8 140.4,246.1 140.8,250.0 141.2,245.1 141.5,241.8 141.9,247.8 142.3,251.1 142.7,240.6 143.0,237.9 143.4,249.9 143.8,249.1 144.2,249.3 144.5,241.3 144.9,258.8 145.3,246.1 145.7,241.2 146.0,252.6 146.4,239.3 146.8,244.7 147.2,250.8 147.5,246.4 147.9,256.3 148.3,250.6 148.7,236.7 149.0,252.3 149.4,236.4 149.8,247.4 150.2,241.1 150.5,246.5 150.9,259.5 151.3,249.9 151.7,245.4 152.0,253.1 152.4,254.1 152.8,244.2 153.2,250.0 153.5,255.9 153.9,250.0 154.3,241.1 154.7,248.7 155.0,240.5 155.4,237.0 155.8,245.6 156.2,252.2 156.5,253.1 156.9,245.7 157.3,240.4 157.7,243.9 158.0,242.2 158.4,247.8 158.8,243.5 159.2,247.9 159.5,246.9 159.9,252.4 160.3,254.0 160.7,247.6 161.0,251.2 161.4,250.2 161.8,240.8 162.2,245.2 162.5,227.8 162.9,239.1 163.3,248.0 163.7,235.4 164.0,242.2 164.4,248.1 164.8,237.8 165.1,248.5 165.5,261.6 165.9,239.4 166.3,247.4 166.6,235.2 167.0,247.5 167.4,250.4 167.8,234.7 168.1,249.7 168.5,242.3 168.9,235.0 169.3,242.6 169.6,243.7 170.0,242.6 170.4,238.3 170.8,247.7 171.1,236.0 171.5,239.6 171.9,229.5 172.3,244.8 172.6,248.0 173.0,238.5 173.4,244.9 173.8,240.9 174.1,241.8 174.5,235.8 174.9,246.2 175.3,242.9 175.6,257.0 176.0,247.4 176.4,233.3 176.8,246.0 177.1,246.1 177.5,249.0 177.9,238.6 178.3,240.9 178.6,248.7 179.0,237.9 179.4,240.2 179.8,237.3 180.1,245.3 180.5,231.5 180.9,239.1 181.3,242.1 181.6,247.3 182.0,242.7 182.4,236.3 182.8,242.7 183.1,234.9 183.5,237.7 183.9,233.3 184.3,236.3 184.6,241.3 185.0,251.8 185.4,239.1 185.8,236.2 186.1,239.7 186.5,234.2 186.9,243.3 187.3,242.7 187.6,251.3 188.0,232.5 188.4,239.4 188.8,243.1 189.1,247.9 189.5,241.0 189.9,231.8 190.3,237.3 190.6,248.3 191.0,231.6 191.4,231.6 191.8,234.1 192.1,235.1 192.5,232.9 192.9,236.4 193.3,235.0 193.6,243.8 194.0,230.7 194.4,237.9 194.8,227.5 195.1,250.8 195.5,235.0 195.9,233.3 196.3,240.8 196.6,236.2 197.0,234.4 197.4,235.3 197.8,241.7 198.1,239.3 198.5,232.6 198.9,231.0 199.3,237.7 199.6,237.8 200.0,237.0 200.4,232.1 200.8,244.1 201.1,245.6 201.5,237.2 201.9,244.2 202.3,241.1 202.6,237.2 203.0,234.8 203.4,243.7 203.8,232.9 204.1,247.6 204.5,234.2 204.9,246.3 205.3,244.5 205.6,233.4 206.0,239.4 206.4,241.6 206.8,239.5 207.1,234.2 207.5,237.1 207.9,236.9 208.3,230.6 208.6,240.7 209.0,239.2 209.4,239.4 209.8,229.6 210.1,230.5 210.5,228.8 210.9,236.3 211.3,236.9 211.6,231.0 212.0,240.4 212.4,231.0 212.8,231.5 213.1,243.7 213.5,236.0 213.9,236.2 214.3,225.4 214.6,220.4 215.0,235.8 215.4,235.1 215.8,248.2 216.1,233.8 216.5,235.0 216.9,241.0 217.3,230.3 217.6,243.7 218.0,235.9 218.4,233.8 218.8,241.7 219.1,224.6 219.5,228.3 219.9,242.2 220.3,242.3 220.6,230.6 221.0,234.2 221.4,240.9 221.8,235.6 222.1,234.4 222.5,234.5 222.9,228.9 223.3,231.4 223.6,223.3 224.0,217.6 224.4,229.4 224.8,227.1 225.1,225.6 225.5,229.2 225.9,240.4 226.3,228.4 226.6,233.0 227.0,224.2 227.4,233.0 227.7,230.6 228.1,231.8 228.5,214.4 228.9,232.8 229.2,235.4 229.6,232.1 230.0,236.5 230.4,233.1 230.7,234.1 231.1,232.6 231.5,223.1 231.9,236.6 232.2,234.1 232.6,235.5 233.0,226.7 233.4,248.0 233.7,238.5 234.1,234.8 234.5,231.5 234.9,234.9 235.2,237.6 235.6,239.8 236.0,231.9 236.4,226.6 236.7,233.1 237.1,233.9 237.5,230.0 237.9,246.0 238.2,237.0 238.6,236.8 239.0,233.6 239.4,235.6 239.7,242.4 240.1,229.0 240.5,225.9 240.9,237.2 241.2,233.4 241.6,234.3 242.0,231.4 242.4,244.4 242.7,226.7 243.1,238.8 243.5,228.9 243.9,235.8 244.2,238.5 244.6,237.2 245.0,231.3 245.4,241.5 245.7,238.7 246.1,239.4 246.5,246.6 246.9,229.3 247.2,233.5 247.6,237.0 248.0,230.3 248.4,242.6 248.7,237.6 249.1,227.3 249.5,231.6 249.9,250.1 250.2,256.6 250.6,243.4 251.0,231.4 251.4,240.3 251.7,238.9 252.1,234.3 252.5,242.9 252.9,236.7 253.2,233.4 253.6,235.4 254.0,235.8 254.4,241.6 254.7,235.3 255.1,243.2 255.5,230.8 255.9,223.6 256.2,242.6 256.6,250.9 257.0,240.9 257.4,236.3 257.7,232.5 258.1,232.3 258.5,243.1 258.9,243.2 259.2,231.4 259.6,245.0 260.0,232.5 260.4,240.1 260.7,234.4 261.1,234.8 261.5,234.4 261.9,234.2 262.2,244.6 262.6,237.3 263.0,238.9 263.4,237.3 263.7,232.0 264.1,240.7 264.5,243.3 264.9,243.4 265.2,241.0 265.6,235.0 266.0,248.7 266.4,232.7 266.7,237.7 267.1,242.0 267.5,247.1 267.9,238.1 268.2,235.6 268.6,249.7 269.0,232.8 269.4,230.2 269.7,237.7 270.1,236.9 270.5,225.9 270.9,232.7 271.2,245.0 271.6,240.0 272.0,240.8 272.4,240.8 272.7,253.6 273.1,235.7 273.5,243.7 273.9,239.1 274.2,240.9 274.6,235.1 275.0,241.9 275.4,244.8 275.7,237.2 276.1,232.2 276.5,242.2 276.9,224.6 277.2,238.9 277.6,243.5 278.0,231.7 278.4,245.2 278.7,234.7 279.1,243.5 279.5,238.0 279.9,247.8 280.2,245.5 280.6,234.6 281.0,239.7 281.4,240.5 281.7,243.3 282.1,238.2 282.5,248.9 282.9,247.3 283.2,242.7 283.6,245.7 284.0,244.9 284.4,241.3 284.7,241.7 285.1,242.3 285.5,231.4 285.9,235.2 286.2,234.0 286.6,241.2 287.0,244.0 287.4,257.8 287.7,243.1 288.1,253.1 288.5,244.5 288.9,236.8 289.2,231.9 289.6,235.7 290.0,246.2 290.3,238.4 290.7,245.8 291.1,236.6 291.5,242.0 291.8,236.4 292.2,226.6 292.6,236.1 293.0,228.0 293.3,240.4 293.7,243.4 294.1,233.8 294.5,231.6 294.8,244.7 295.2,241.1 295.6,249.8 296.0,242.7 296.3,236.5 296.7,242.1 297.1,244.9 297.5,249.8 297.8,239.6 298.2,237.1 298.6,238.3 299.0,240.3 299.3,249.1 299.7,231.7 300.1,242.1 300.5,242.7 300.8,237.6 301.2,254.3 301.6,242.3 302.0,242.7 302.3,239.8 302.7,234.2 303.1,239.3 303.5,252.5 303.8,244.0 304.2,240.9 304.6,241.2 305.0,249.5 305.3,251.7 305.7,239.0 306.1,240.2 306.5,242.3 306.8,252.1 307.2,232.0 307.6,258.9 308.0,244.4 308.3,230.3 308.7,243.2 309.1,241.0 309.5,249.1 309.8,234.5 310.2,249.8 310.6,240.9 311.0,241.6 311.3,248.5 311.7,237.4 312.1,250.6 312.5,246.4 312.8,242.7 313.2,244.9 313.6,239.9 314.0,237.3 314.3,244.3 314.7,245.7 315.1,245.6 315.5,244.8 315.8,238.0 316.2,244.0 316.6,240.4 317.0,243.3 317.3,247.6 317.7,237.8 318.1,248.8 318.5,242.8 318.8,234.3 319.2,249.2 319.6,243.2 320.0,252.0 320.3,245.9 320.7,251.6 321.1,245.1 321.5,246.1 321.8,242.3 322.2,233.9 322.6,241.4 323.0,239.3 323.3,243.4 323.7,244.5 324.1,248.0 324.5,253.5 324.8,242.8 325.2,233.9 325.6,240.5 326.0,246.3 326.3,233.8 326.7,245.8 327.1,246.9 327.5,250.3 327.8,248.9 328.2,244.8 328.6,231.9 329.0,244.6 329.3,249.4 329.7,247.0 330.1,244.8 330.5,253.4 330.8,242.8 331.2,239.5 331.6,241.7 332.0,240.1 332.3,251.0 332.7,253.4 333.1,236.3 333.5,237.4 333.8,252.6 334.2,242.5 334.6,243.6 335.0,240.6 335.3,242.6 335.7,246.7 336.1,242.7 336.5,242.9 336.8,244.1 337.2,254.5 337.6,261.1 338.0,248.4 338.3,253.3 338.7,242.4 339.1,239.8 339.5,242.4 339.8,246.1 340.2,243.5 340.6,237.2 341.0,248.2 341.3,238.7 341.7,239.9 342.1,242.5 342.5,235.7 342.8,248.2 343.2,238.6 343.6,249.4 344.0,248.5 344.3,250.2 344.7,241.5 345.1,249.5 345.5,243.8 345.8,250.7 346.2,238.0 346.6,233.6 347.0,242.9 347.3,225.3 347.7,241.0 348.1,231.8 348.5,243.7 348.8,253.3 349.2,235.7 349.6,245.0 350.0,250.3 350.3,248.1 350.7,253.7 351.1,245.3 351.5,250.5 351.8,235.8 352.2,240.6 352.6,254.0 352.9,253.1 353.3,247.7 353.7,255.5 354.1,245.1 354.4,244.7 354.8,248.9 355.2,247.6 355.6,241.6 355.9,236.4 356.3,235.9 356.7,244.4 357.1,239.7 357.4,248.8 357.8,242.2 358.2,250.1 358.6,240.4 358.9,251.8 359.3,250.2 359.7,244.7 360.1,238.3 360.4,253.0 360.8,247.8 361.2,243.9 361.6,243.4 361.9,249.6 362.3,244.2 362.7,246.3 363.1,236.7 363.4,241.6 363.8,252.4 364.2,257.4 364.6,244.2 364.9,238.0 365.3,243.8 365.7,239.7 366.1,247.6 366.4,252.7 366.8,240.5 367.2,244.3 367.6,240.9 367.9,252.8 368.3,243.8 368.7,248.4 369.1,240.2 369.4,248.2 369.8,248.4 370.2,248.2 370.6,237.6 370.9,244.7 371.3,249.3 371.7,250.8 372.1,250.9 372.4,236.5 372.8,255.4 373.2,249.8 373.6,241.3 373.9,238.2 374.3,245.8 374.7,240.4 375.1,240.6 375.4,239.3 375.8,244.7 376.2,235.5 376.6,243.8 376.9,236.1 377.3,251.2 377.7,234.0 378.1,252.1 378.4,253.5 378.8,242.0 379.2,249.6 379.6,239.6 379.9,251.0 380.3,235.6 380.7,244.8 381.1,251.4 381.4,243.9 381.8,234.5 382.2,249.3 382.6,241.9 382.9,233.1 383.3,239.9 383.7,244.9 384.1,248.1 384.4,241.5 384.8,253.6 385.2,262.3 385.6,248.7 385.9,251.1 386.3,234.8 386.7,244.1 387.1,250.5 387.4,251.6 387.8,242.0 388.2,249.6 388.6,248.2 388.9,245.4 389.3,244.3 389.7,244.3 390.1,244.2 390.4,237.3 390.8,235.0 391.2,254.3 391.6,230.0 391.9,244.1 392.3,230.1 392.7,249.0 393.1,242.9 393.4,243.5 393.8,244.1 394.2,239.9 394.6,241.1 394.9,250.6 395.3,245.4 395.7,240.6 396.1,240.8 396.4,246.7 396.8,246.4 397.2,245.7 397.6,251.1 397.9,252.2 398.3,235.7 398.7,247.0 399.1,244.2 399.4,249.1 399.8,237.3 400.2,234.7 400.6,246.0 400.9,241.8 401.3,249.1 401.7,234.6 402.1,239.4 402.4,249.6 402.8,237.6 403.2,242.7 403.6,242.4 403.9,242.7 404.3,248.6 404.7,247.9 405.1,241.2 405.4,245.1 405.8,250.2 406.2,233.1 406.6,246.0 406.9,248.0 407.3,248.8 407.7,240.8 408.1,239.2 408.4,243.4 408.8,239.8 409.2,253.4 409.6,246.9 409.9,247.5 410.3,244.8 410.7,242.0 411.1,256.5 411.4,226.9 411.8,249.8 412.2,242.9 412.6,240.1 412.9,239.9 413.3,243.5 413.7,261.6 414.0,251.1"/><line x1="225.7" y1="27" x2="225.7" y2="278" stroke="#000" stroke-width="2" stroke-dasharray="4.3 3.4"/><path d="M39.5 28.2 V278.3 H414.2" fill="none" stroke="#000" stroke-width="1.6"/><path d="M35.5 278.20 H39.5 M35.5 253.20 H39.5 M35.5 228.20 H39.5 M35.5 203.20 H39.5 M35.5 178.20 H39.5 M35.5 153.20 H39.5 M35.5 128.20 H39.5 M35.5 103.20 H39.5 M35.5 78.20 H39.5 M35.5 53.20 H39.5 M35.5 28.20 H39.5 M39.20 278.3 V282.3 M92.75 278.3 V282.3 M146.30 278.3 V282.3 M199.85 278.3 V282.3 M253.40 278.3 V282.3 M306.95 278.3 V282.3 M360.50 278.3 V282.3 M414.05 278.3 V282.3" stroke="#000" stroke-width="1.6" fill="none"/><text x="35" y="281.70" font-size="11.8" font-weight="bold" text-anchor="end" stroke="#000" stroke-width="0.45" stroke-linejoin="round">0</text><text x="35" y="256.70" font-size="11.8" font-weight="bold" text-anchor="end" stroke="#000" stroke-width="0.45" stroke-linejoin="round">5</text><text x="35" y="231.70" font-size="11.8" font-weight="bold" text-anchor="end" stroke="#000" stroke-width="0.45" stroke-linejoin="round">10</text><text x="35" y="206.70" font-size="11.8" font-weight="bold" text-anchor="end" stroke="#000" stroke-width="0.45" stroke-linejoin="round">15</text><text x="35" y="181.70" font-size="11.8" font-weight="bold" text-anchor="end" stroke="#000" stroke-width="0.45" stroke-linejoin="round">20</text><text x="35" y="156.70" font-size="11.8" font-weight="bold" text-anchor="end" stroke="#000" stroke-width="0.45" stroke-linejoin="round">25</text><text x="35" y="131.70" font-size="11.8" font-weight="bold" text-anchor="end" stroke="#000" stroke-width="0.45" stroke-linejoin="round">30</text><text x="35" y="106.70" font-size="11.8" font-weight="bold" text-anchor="end" stroke="#000" stroke-width="0.45" stroke-linejoin="round">35</text><text x="35" y="81.70" font-size="11.8" font-weight="bold" text-anchor="end" stroke="#000" stroke-width="0.45" stroke-linejoin="round">40</text><text x="35" y="56.70" font-size="11.8" font-weight="bold" text-anchor="end" stroke="#000" stroke-width="0.45" stroke-linejoin="round">45</text><text x="35" y="31.70" font-size="11.8" font-weight="bold" text-anchor="end" stroke="#000" stroke-width="0.45" stroke-linejoin="round">50</text><text x="39.20" y="293.0" font-size="11.8" font-weight="bold" text-anchor="middle" stroke="#000" stroke-width="0.45" stroke-linejoin="round">0</text><text x="92.75" y="293.0" font-size="11.8" font-weight="bold" text-anchor="middle" stroke="#000" stroke-width="0.45" stroke-linejoin="round">100</text><text x="146.30" y="293.0" font-size="11.8" font-weight="bold" text-anchor="middle" stroke="#000" stroke-width="0.45" stroke-linejoin="round">200</text><text x="199.85" y="293.0" font-size="11.8" font-weight="bold" text-anchor="middle" stroke="#000" stroke-width="0.45" stroke-linejoin="round">300</text><text x="253.40" y="293.0" font-size="11.8" font-weight="bold" text-anchor="middle" stroke="#000" stroke-width="0.45" stroke-linejoin="round">400</text><text x="306.95" y="293.0" font-size="11.8" font-weight="bold" text-anchor="middle" stroke="#000" stroke-width="0.45" stroke-linejoin="round">500</text><text x="360.50" y="293.0" font-size="11.8" font-weight="bold" text-anchor="middle" stroke="#000" stroke-width="0.45" stroke-linejoin="round">600</text><text x="414.05" y="293.0" font-size="11.8" font-weight="bold" text-anchor="middle" stroke="#000" stroke-width="0.45" stroke-linejoin="round">700</text><text x="227.3" y="309.3" font-size="11.7" font-weight="bold" text-anchor="middle" stroke="#000" stroke-width="0.45" stroke-linejoin="round" textLength="55.2" lengthAdjust="spacingAndGlyphs">Time (sec)</text><text transform="translate(8.8 150.6) rotate(-90)" font-size="12.3" font-weight="bold" text-anchor="middle" stroke="#000" stroke-width="0.45" stroke-linejoin="round" textLength="111.5" lengthAdjust="spacingAndGlyphs">Response units (RU)</text><line x1="415.3" y1="119.9" x2="427.3" y2="119.9" stroke="#000" stroke-width="1.7"/><text x="433.3" y="124.4" font-size="11.4" stroke="#000" stroke-width="0.45" stroke-linejoin="round">SZ21 pups</text><line x1="415.3" y1="154.6" x2="427.3" y2="154.6" stroke="#000" stroke-width="1.7"/><text x="433.3" y="159.1" font-size="11.4" stroke="#000" stroke-width="0.45" stroke-linejoin="round">NGM-SZ21 pups</text><line x1="415.3" y1="245.0" x2="427.3" y2="245.0" stroke="#000" stroke-width="1.7"/><text x="433.3" y="249.5" font-size="11.4" stroke="#000" stroke-width="0.45" stroke-linejoin="round">Control pups</text><text x="-1.8" y="354.8" font-size="23" font-weight="bold" stroke="#000" stroke-width="0.8" stroke-linejoin="round">B</text><path d="M69.6 368.3 V511.8 M65.8 511.8 H72.8 M65.8 528.1 H72.8 M69.6 528.1 V668.6 H520" fill="none" stroke="#000" stroke-width="1.7"/><path d="M65.6 483.14 H69.6 M65.6 454.48 H69.6 M65.6 425.82 H69.6 M65.6 397.16 H69.6 M65.6 368.50 H69.6 M65.6 668.60 H69.6 M65.6 640.50 H69.6 M65.6 612.40 H69.6 M65.6 584.30 H69.6 M65.6 556.20 H69.6" stroke="#000" stroke-width="1.7" fill="none"/><text x="64.8" y="516.50" font-size="13.3" font-weight="bold" text-anchor="end" stroke="#000" stroke-width="0.45" stroke-linejoin="round">1,000</text><text x="64.8" y="487.84" font-size="13.3" font-weight="bold" text-anchor="end" stroke="#000" stroke-width="0.45" stroke-linejoin="round">1,200</text><text x="64.8" y="459.18" font-size="13.3" font-weight="bold" text-anchor="end" stroke="#000" stroke-width="0.45" stroke-linejoin="round">1,400</text><text x="64.8" y="430.52" font-size="13.3" font-weight="bold" text-anchor="end" stroke="#000" stroke-width="0.45" stroke-linejoin="round">1,600</text><text x="64.8" y="401.86" font-size="13.3" font-weight="bold" text-anchor="end" stroke="#000" stroke-width="0.45" stroke-linejoin="round">1,800</text><text x="64.8" y="373.20" font-size="13.3" font-weight="bold" text-anchor="end" stroke="#000" stroke-width="0.45" stroke-linejoin="round">2,000</text><text x="64.8" y="673.30" font-size="13.3" font-weight="bold" text-anchor="end" stroke="#000" stroke-width="0.45" stroke-linejoin="round">0</text><text x="64.8" y="645.20" font-size="13.3" font-weight="bold" text-anchor="end" stroke="#000" stroke-width="0.45" stroke-linejoin="round">100</text><text x="64.8" y="617.10" font-size="13.3" font-weight="bold" text-anchor="end" stroke="#000" stroke-width="0.45" stroke-linejoin="round">200</text><text x="64.8" y="589.00" font-size="13.3" font-weight="bold" text-anchor="end" stroke="#000" stroke-width="0.45" stroke-linejoin="round">300</text><text x="64.8" y="560.90" font-size="13.3" font-weight="bold" text-anchor="end" stroke="#000" stroke-width="0.45" stroke-linejoin="round">400</text><text x="64.8" y="532.80" font-size="13.3" font-weight="bold" text-anchor="end" stroke="#000" stroke-width="0.45" stroke-linejoin="round">500</text><text transform="translate(10.6 516.2) rotate(-90)" font-size="14.2" font-weight="bold" text-anchor="middle" stroke="#000" stroke-width="0.45" stroke-linejoin="round" textLength="128.7" lengthAdjust="spacingAndGlyphs">Anti-HPA-1a (ng/ml)</text><rect x="87.2" y="422.8" width="77.2" height="89.0" fill="#000"/><rect x="87.2" y="527.6" width="77.2" height="141.0" fill="#000"/><line x1="106.3" y1="420.8" x2="145.7" y2="420.8" stroke="#000" stroke-width="2.2"/><line x1="126" y1="420.8" x2="126" y2="423" stroke="#000" stroke-width="2.2"/><rect x="311.9" y="454.6" width="77.3" height="57.2" fill="#000"/><rect x="311.9" y="527.6" width="77.3" height="141.0" fill="#000"/><line x1="331.5" y1="439.2" x2="370.3" y2="439.2" stroke="#000" stroke-width="2.2"/><line x1="350.7" y1="439.2" x2="350.7" y2="455" stroke="#000" stroke-width="2.3"/><rect x="201" y="627.8" width="74" height="40.8" fill="#fff" stroke="#000" stroke-width="2"/><line x1="218.5" y1="625.6" x2="258.3" y2="625.6" stroke="#000" stroke-width="2.6"/><rect x="425" y="634.6" width="75.9" height="34.0" fill="#fff" stroke="#000" stroke-width="2"/><line x1="443.3" y1="632.4" x2="482" y2="632.4" stroke="#000" stroke-width="2.6"/><path d="M238.4 380.6 C238.6 373 245.5 368.8 253.5 368.8 L320 368.8 C337 368.8 346 364 349.6 355.6 C353.2 364 362.2 368.8 379.2 368.8 L445.5 368.8 C453.5 368.8 460.4 373 460.6 380.6" fill="none" stroke="#000" stroke-width="2.3"/><text x="349.4" y="349.3" font-size="14.2" text-anchor="middle" stroke="#000" stroke-width="0.3" stroke-linejoin="round" textLength="49.0" lengthAdjust="spacingAndGlyphs">p=0.58</text><text x="126.1" y="685.6" font-size="14" font-weight="bold" text-anchor="middle" stroke="#000" stroke-width="0.45" stroke-linejoin="round">Maternal level</text><text x="238.4" y="685.6" font-size="14" font-weight="bold" text-anchor="middle" stroke="#000" stroke-width="0.45" stroke-linejoin="round">Fetal level</text><text x="348.2" y="685.6" font-size="14" font-weight="bold" text-anchor="middle" stroke="#000" stroke-width="0.45" stroke-linejoin="round">Maternal level</text><text x="463" y="685.6" font-size="14" font-weight="bold" text-anchor="middle" stroke="#000" stroke-width="0.45" stroke-linejoin="round">Fetal level</text><line x1="73.8" y1="701.2" x2="274.6" y2="701.2" stroke="#000" stroke-width="3.2"/><line x1="298.5" y1="701.2" x2="497.8" y2="701.2" stroke="#000" stroke-width="3.2"/><text x="172.3" y="725.2" font-size="16.6" font-weight="bold" text-anchor="middle" stroke="#000" stroke-width="0.4" stroke-linejoin="round">SZ21</text><text x="397.9" y="725.2" font-size="16.6" font-weight="bold" text-anchor="middle" stroke="#000" stroke-width="0.4" stroke-linejoin="round" textLength="88.4" lengthAdjust="spacingAndGlyphs">NGM-SZ21</text></svg>
</body></html>
